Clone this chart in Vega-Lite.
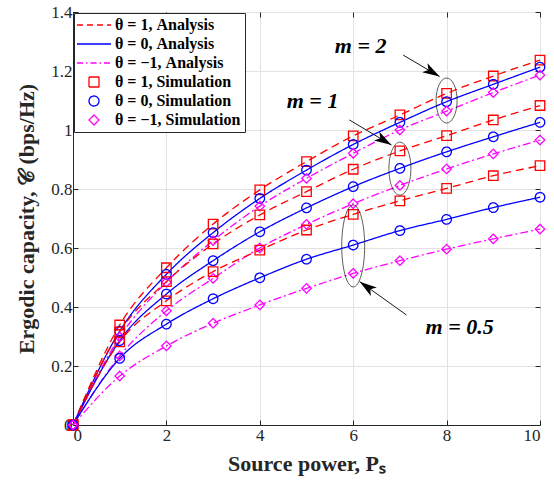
{
  "$schema": "https://vega.github.io/schema/vega-lite/v6.json",
  "width": 467,
  "height": 413,
  "autosize": "none",
  "padding": {"left": 73, "top": 12, "right": 14, "bottom": 64},
  "background": "white",
  "config": {
    "view": {"stroke": "#262626", "strokeWidth": 1},
    "font": "Liberation Serif",
    "axis": {
      "labelFont": "Liberation Serif",
      "labelFontSize": 17,
      "labelColor": "#262626",
      "domainColor": "#262626",
      "tickColor": "#262626",
      "tickSize": -5,
      "gridColor": "#e2e2e2",
      "gridWidth": 1,
      "titleFont": "Liberation Serif",
      "titleFontSize": 22,
      "titleFontWeight": "bold",
      "titleColor": "#262626"
    },
    "legend": {
      "labelFont": "Liberation Serif",
      "labelFontSize": 16,
      "labelFontWeight": "bold",
      "labelColor": "#000000"
    }
  },
  "datasets": {
    "cap": [
      {"P":0,"m":"2","theta":"1","C":0},{"P":1,"m":"2","theta":"1","C":0.339},{"P":2,"m":"2","theta":"1","C":0.533},{"P":3,"m":"2","theta":"1","C":0.681},{"P":4,"m":"2","theta":"1","C":0.797},{"P":5,"m":"2","theta":"1","C":0.893},{"P":6,"m":"2","theta":"1","C":0.980},{"P":7,"m":"2","theta":"1","C":1.051},{"P":8,"m":"2","theta":"1","C":1.124},{"P":9,"m":"2","theta":"1","C":1.183},{"P":10,"m":"2","theta":"1","C":1.237},
      {"P":0,"m":"2","theta":"0","C":0},{"P":1,"m":"2","theta":"0","C":0.318},{"P":2,"m":"2","theta":"0","C":0.511},{"P":3,"m":"2","theta":"0","C":0.652},{"P":4,"m":"2","theta":"0","C":0.768},{"P":5,"m":"2","theta":"0","C":0.864},{"P":6,"m":"2","theta":"0","C":0.951},{"P":7,"m":"2","theta":"0","C":1.026},{"P":8,"m":"2","theta":"0","C":1.096},{"P":9,"m":"2","theta":"0","C":1.155},{"P":10,"m":"2","theta":"0","C":1.213},
      {"P":0,"m":"2","theta":"−1","C":0},{"P":1,"m":"2","theta":"−1","C":0.298},{"P":2,"m":"2","theta":"−1","C":0.484},{"P":3,"m":"2","theta":"−1","C":0.625},{"P":4,"m":"2","theta":"−1","C":0.742},{"P":5,"m":"2","theta":"−1","C":0.836},{"P":6,"m":"2","theta":"−1","C":0.921},{"P":7,"m":"2","theta":"−1","C":1.000},{"P":8,"m":"2","theta":"−1","C":1.064},{"P":9,"m":"2","theta":"−1","C":1.127},{"P":10,"m":"2","theta":"−1","C":1.186},
      {"P":0,"m":"1","theta":"1","C":0},{"P":1,"m":"1","theta":"1","C":0.316},{"P":2,"m":"1","theta":"1","C":0.486},{"P":3,"m":"1","theta":"1","C":0.614},{"P":4,"m":"1","theta":"1","C":0.712},{"P":5,"m":"1","theta":"1","C":0.791},{"P":6,"m":"1","theta":"1","C":0.867},{"P":7,"m":"1","theta":"1","C":0.929},{"P":8,"m":"1","theta":"1","C":0.981},{"P":9,"m":"1","theta":"1","C":1.034},{"P":10,"m":"1","theta":"1","C":1.083},
      {"P":0,"m":"1","theta":"0","C":0},{"P":1,"m":"1","theta":"0","C":0.286},{"P":2,"m":"1","theta":"0","C":0.444},{"P":3,"m":"1","theta":"0","C":0.557},{"P":4,"m":"1","theta":"0","C":0.655},{"P":5,"m":"1","theta":"0","C":0.736},{"P":6,"m":"1","theta":"0","C":0.808},{"P":7,"m":"1","theta":"0","C":0.870},{"P":8,"m":"1","theta":"0","C":0.926},{"P":9,"m":"1","theta":"0","C":0.977},{"P":10,"m":"1","theta":"0","C":1.026},
      {"P":0,"m":"1","theta":"−1","C":0},{"P":1,"m":"1","theta":"−1","C":0.234},{"P":2,"m":"1","theta":"−1","C":0.387},{"P":3,"m":"1","theta":"−1","C":0.497},{"P":4,"m":"1","theta":"−1","C":0.600},{"P":5,"m":"1","theta":"−1","C":0.680},{"P":6,"m":"1","theta":"−1","C":0.750},{"P":7,"m":"1","theta":"−1","C":0.812},{"P":8,"m":"1","theta":"−1","C":0.868},{"P":9,"m":"1","theta":"−1","C":0.919},{"P":10,"m":"1","theta":"−1","C":0.966},
      {"P":0,"m":"0.5","theta":"1","C":0},{"P":1,"m":"0.5","theta":"1","C":0.282},{"P":2,"m":"0.5","theta":"1","C":0.421},{"P":3,"m":"0.5","theta":"1","C":0.520},{"P":4,"m":"0.5","theta":"1","C":0.593},{"P":5,"m":"0.5","theta":"1","C":0.661},{"P":6,"m":"0.5","theta":"1","C":0.714},{"P":7,"m":"0.5","theta":"1","C":0.760},{"P":8,"m":"0.5","theta":"1","C":0.802},{"P":9,"m":"0.5","theta":"1","C":0.845},{"P":10,"m":"0.5","theta":"1","C":0.879},
      {"P":0,"m":"0.5","theta":"0","C":0},{"P":1,"m":"0.5","theta":"0","C":0.226},{"P":2,"m":"0.5","theta":"0","C":0.342},{"P":3,"m":"0.5","theta":"0","C":0.428},{"P":4,"m":"0.5","theta":"0","C":0.499},{"P":5,"m":"0.5","theta":"0","C":0.562},{"P":6,"m":"0.5","theta":"0","C":0.610},{"P":7,"m":"0.5","theta":"0","C":0.659},{"P":8,"m":"0.5","theta":"0","C":0.697},{"P":9,"m":"0.5","theta":"0","C":0.737},{"P":10,"m":"0.5","theta":"0","C":0.772},
      {"P":0,"m":"0.5","theta":"−1","C":0},{"P":1,"m":"0.5","theta":"−1","C":0.166},{"P":2,"m":"0.5","theta":"−1","C":0.268},{"P":3,"m":"0.5","theta":"−1","C":0.345},{"P":4,"m":"0.5","theta":"−1","C":0.407},{"P":5,"m":"0.5","theta":"−1","C":0.463},{"P":6,"m":"0.5","theta":"−1","C":0.514},{"P":7,"m":"0.5","theta":"−1","C":0.557},{"P":8,"m":"0.5","theta":"−1","C":0.596},{"P":9,"m":"0.5","theta":"−1","C":0.631},{"P":10,"m":"0.5","theta":"−1","C":0.664}
    ],
    "arrows": [
      {"m":"2","P":7.07,"C":1.254,"P2":7.85,"C2":1.181},
      {"m":"1","P":5.92,"C":1.034,"P2":6.82,"C2":0.949},
      {"m":"0.5","P":7.14,"C":0.373,"P2":6.14,"C2":0.486}
    ],
    "notes": [
      {"P":6.16,"C":1.286,"label":"m = 2"},
      {"P":5.13,"C":1.10,"label":"m = 1"},
      {"P":8.28,"C":0.331,"label":"m = 0.5"}
    ]
  },
  "resolve": {"scale": {"color": "independent", "strokeDash": "independent", "shape": "independent"}, "axis": {"x": "independent", "y": "independent"}},
  "layer": [
    {
      "data": {"name": "cap"},
      "transform": [{"calculate": "'θ = ' + datum.theta + ', Analysis'", "as": "series"}],
      "mark": {"type": "line", "interpolate": "monotone", "strokeWidth": 1.3},
      "encoding": {
        "x": {"field": "P", "type": "quantitative", "scale": {"domain": [0, 10], "nice": false},
              "axis": {"values": [0,2,4,6,8,10], "title": "Source power, Pₛ", "grid": true, "labelPadding": 7, "titlePadding": 10}},
        "y": {"field": "C", "type": "quantitative", "scale": {"domain": [0, 1.4], "nice": false},
              "axis": {"values": [0,0.2,0.4,0.6,0.8,1,1.2,1.4], "format": "~g", "title": "Ergodic capacity, 𝒞 (bps/Hz)", "grid": true, "labelPadding": 6, "titlePadding": 12}},
        "color": {"field": "series", "type": "nominal", "legend": null,
                  "scale": {"domain": ["θ = 1, Analysis", "θ = 0, Analysis", "θ = −1, Analysis"], "range": ["#ff0000", "#0000ff", "#ff00ff"]}},
        "strokeDash": {"field": "series", "type": "nominal", "legend": null,
                  "scale": {"domain": ["θ = 1, Analysis", "θ = 0, Analysis", "θ = −1, Analysis"], "range": [[8, 5], [1, 0], [8, 3, 2, 3]]}},
        "detail": {"field": "m"}
      }
    },
    {
      "data": {"name": "cap"},
      "mark": {"type": "point", "opacity": 0},
      "encoding": {
        "x": {"field": "P", "type": "quantitative",
              "axis": {"orient": "top", "values": [0,2,4,6,8,10], "labels": false, "title": null, "grid": false, "domain": false}},
        "y": {"field": "C", "type": "quantitative",
              "axis": {"orient": "right", "values": [0,0.2,0.4,0.6,0.8,1,1.2,1.4], "labels": false, "title": null, "grid": false, "domain": false}}
      }
    },
    {
      "data": {"name": "cap"},
      "transform": [{"calculate": "'θ = ' + datum.theta + ', Simulation'", "as": "series"}],
      "mark": {"type": "point", "filled": false, "size": 90, "strokeWidth": 1.3, "opacity": 1},
      "encoding": {
        "x": {"field": "P", "type": "quantitative", "axis": null},
        "y": {"field": "C", "type": "quantitative", "axis": null},
        "color": {"field": "series", "type": "nominal",
                  "scale": {"domain": ["θ = 1, Analysis", "θ = 0, Analysis", "θ = −1, Analysis", "θ = 1, Simulation", "θ = 0, Simulation", "θ = −1, Simulation"],
                            "range": ["#ff0000", "#0000ff", "#ff00ff", "#ff0000", "#0000ff", "#ff00ff"]},
                  "legend": {"title": null, "orient": "top-left", "offset": 1, "padding": 4, "rowPadding": 3,
                             "strokeColor": "#262626", "fillColor": "white", "cornerRadius": 0,
                             "symbolSize": 100, "symbolStrokeWidth": 1.3, "symbolOffset": 8, "labelOffset": 13}},
        "shape": {"field": "series", "type": "nominal",
                  "scale": {"domain": ["θ = 1, Analysis", "θ = 0, Analysis", "θ = −1, Analysis", "θ = 1, Simulation", "θ = 0, Simulation", "θ = −1, Simulation"],
                            "range": ["M-3.4,0H3.4", "M-3.4,0H3.4", "M-3.4,0H3.4", "square", "circle", "diamond"]}},
        "strokeDash": {"field": "series", "type": "nominal",
                  "scale": {"domain": ["θ = 1, Analysis", "θ = 0, Analysis", "θ = −1, Analysis", "θ = 1, Simulation", "θ = 0, Simulation", "θ = −1, Simulation"],
                            "range": [[6, 4], [1, 0], [6, 3, 1.5, 3], [1, 0], [1, 0], [1, 0]]}}
      }
    },
    {
      "data": {"values": [{"P": 8, "C": 1.10}]},
      "mark": {"type": "point", "filled": false, "stroke": "#000000", "strokeWidth": 0.9, "size": 2025,
               "shape": "M0,-1C0.258,-1,0.467,-0.5523,0.467,0C0.467,0.5523,0.258,1,0,1C-0.258,1,-0.467,0.5523,-0.467,0C-0.467,-0.5523,-0.258,-1,0,-1Z"},
      "encoding": {"x": {"field": "P", "type": "quantitative", "axis": null}, "y": {"field": "C", "type": "quantitative", "axis": null}}
    },
    {
      "data": {"values": [{"P": 7, "C": 0.869}]},
      "mark": {"type": "point", "filled": false, "stroke": "#000000", "strokeWidth": 0.9, "size": 2809,
               "shape": "M0,-1C0.229,-1,0.415,-0.5523,0.415,0C0.415,0.5523,0.229,1,0,1C-0.229,1,-0.415,0.5523,-0.415,0C-0.415,-0.5523,-0.229,-1,0,-1Z"},
      "encoding": {"x": {"field": "P", "type": "quantitative", "axis": null}, "y": {"field": "C", "type": "quantitative", "axis": null}}
    },
    {
      "data": {"values": [{"P": 6, "C": 0.607}]},
      "mark": {"type": "point", "filled": false, "stroke": "#000000", "strokeWidth": 0.9, "size": 6724,
               "shape": "M0,-1C0.155,-1,0.28,-0.5523,0.28,0C0.28,0.5523,0.155,1,0,1C-0.155,1,-0.28,0.5523,-0.28,0C-0.28,-0.5523,-0.155,-1,0,-1Z"},
      "encoding": {"x": {"field": "P", "type": "quantitative", "axis": null}, "y": {"field": "C", "type": "quantitative", "axis": null}}
    },
    {
      "data": {"name": "arrows"},
      "mark": {"type": "rule", "color": "#000000", "strokeWidth": 0.9},
      "encoding": {
        "x": {"field": "P", "type": "quantitative", "axis": null}, "y": {"field": "C", "type": "quantitative", "axis": null},
        "x2": {"field": "P2"}, "y2": {"field": "C2"}
      }
    },
    {
      "data": {"name": "arrows"},
      "transform": [{"filter": "datum.m == '2'"}],
      "mark": {"type": "point", "filled": true, "color": "#000000", "opacity": 1, "size": 300, "angle": 31,
               "shape": "M0,0L-2,-0.6L-1.5,0L-2,0.6Z"},
      "encoding": {"x": {"field": "P2", "type": "quantitative", "axis": null}, "y": {"field": "C2", "type": "quantitative", "axis": null}}
    },
    {
      "data": {"name": "arrows"},
      "transform": [{"filter": "datum.m == '1'"}],
      "mark": {"type": "point", "filled": true, "color": "#000000", "opacity": 1, "size": 300, "angle": 31,
               "shape": "M0,0L-2,-0.6L-1.5,0L-2,0.6Z"},
      "encoding": {"x": {"field": "P2", "type": "quantitative", "axis": null}, "y": {"field": "C2", "type": "quantitative", "axis": null}}
    },
    {
      "data": {"name": "arrows"},
      "transform": [{"filter": "datum.m == '0.5'"}],
      "mark": {"type": "point", "filled": true, "color": "#000000", "opacity": 1, "size": 300, "angle": 215.5,
               "shape": "M0,0L-2,-0.6L-1.5,0L-2,0.6Z"},
      "encoding": {"x": {"field": "P2", "type": "quantitative", "axis": null}, "y": {"field": "C2", "type": "quantitative", "axis": null}}
    },
    {
      "data": {"name": "notes"},
      "mark": {"type": "text", "font": "Liberation Serif", "fontSize": 22, "fontWeight": "bold", "fontStyle": "italic", "color": "#000000", "align": "center", "baseline": "middle"},
      "encoding": {
        "x": {"field": "P", "type": "quantitative", "axis": null}, "y": {"field": "C", "type": "quantitative", "axis": null},
        "text": {"field": "label"}
      }
    }
  ]
}
